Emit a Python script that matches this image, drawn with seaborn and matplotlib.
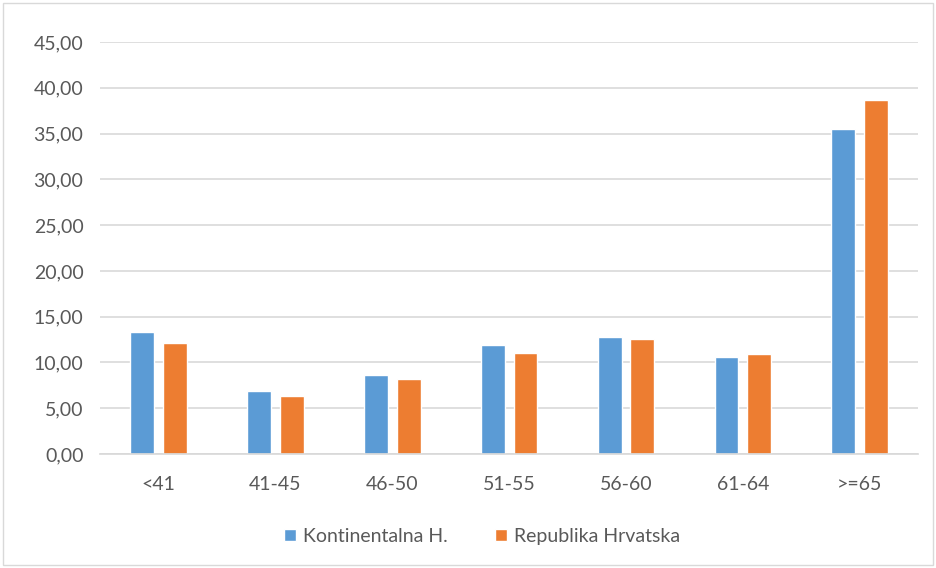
import pandas as pd
import seaborn as sns
import matplotlib.pyplot as plt
from matplotlib.patches import Rectangle

groups = ['<41', '41-45', '46-50', '51-55', '56-60', '61-64', '>=65']
kontinentalna = [13.37, 6.9, 8.6, 11.9, 12.75, 10.65, 35.5]
hrvatska = [12.1, 6.3, 8.15, 11.05, 12.57, 10.87, 38.7]
series = ['Kontinentalna H.', 'Republika Hrvatska']

df = pd.DataFrame({
    'grupa': groups * 2,
    'vrijednost': kontinentalna + hrvatska,
    'serija': [series[0]] * len(groups) + [series[1]] * len(groups),
})

sns.set_theme(style="white")
plt.rcParams['font.family'] = ['Lato', 'DejaVu Sans']

fig = plt.figure(figsize=(9.36, 5.68), dpi=100)
ax = fig.add_axes([0.107, 0.2007, 0.874, 0.7253])

sns.barplot(data=df, x='grupa', y='vrijednost', hue='serija',
            palette=['#5B9BD5', '#ED7D31'], width=0.56, gap=0.27,
            saturation=1, ax=ax, legend=True)

ax.set_ylim(0, 45)
ax.set_yticks(range(0, 46, 5))
ax.set_yticklabels([f'{v:.2f}'.replace('.', ',') for v in range(0, 46, 5)])
ax.set_xlim(-0.5, len(groups) - 0.5)
ax.yaxis.grid(True, color='#d9d9d9', linewidth=1.2)
ax.set_axisbelow(True)
ax.set_xlabel('')
ax.set_ylabel('')
for s in ['top', 'right', 'left']:
    ax.spines[s].set_visible(False)
ax.spines['bottom'].set_color('#d9d9d9')
ax.tick_params(axis='both', length=0, labelsize=14, labelcolor='#595959')
ax.tick_params(axis='y', pad=12)
ax.tick_params(axis='x', pad=16)

ax.legend(loc='center', bbox_to_anchor=(0.467, -0.2), ncol=2,
          frameon=False, fontsize=14, handlelength=0.6, handleheight=0.6,
          columnspacing=2.4, handletextpad=0.4, labelcolor='#595959')

fig.patches.append(Rectangle((0.003, 0.005), 0.994, 0.99, transform=fig.transFigure,
                             fill=False, edgecolor='#d9d9d9', linewidth=1))

plt.savefig('out.png', dpi=100)
